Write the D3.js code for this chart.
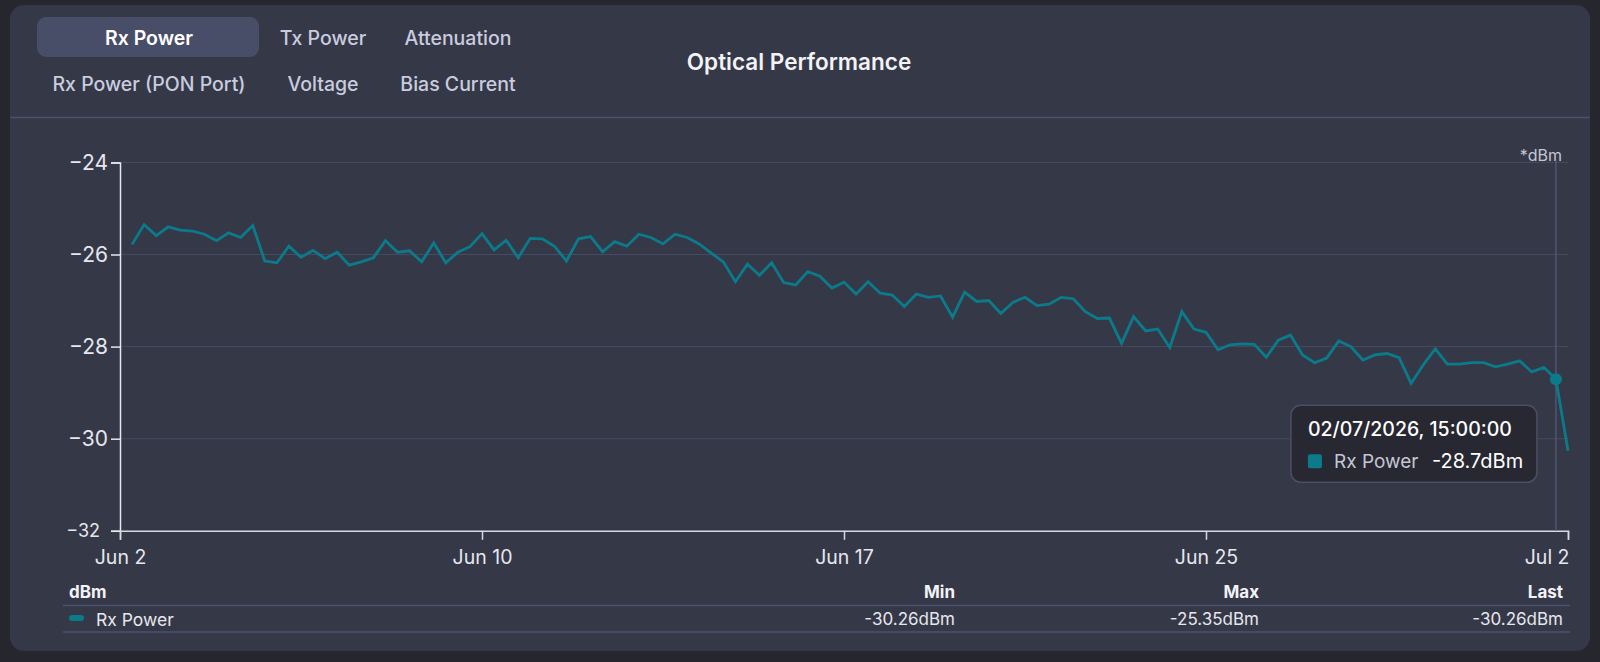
<!DOCTYPE html>
<html>
<head>
<meta charset="utf-8">
<script src="https://cdn.jsdelivr.net/npm/d3@7"></script>
<style>
  html, body { margin: 0; padding: 0; background: #26262f; }
  svg { display: block; font-family: Inter, "Noto Sans", sans-serif; }
</style>
</head>
<body>
<svg id="chart" width="1600" height="662"></svg>
<script>
// ---------------- data ----------------
const seriesName = "Rx Power";
const unit = "dBm";
const startTime = new Date(2026, 5, 3, 3, 0, 0);   // first sample
const stepHours = 6;
const rxPower = [
  -25.78,-25.35,-25.59,-25.40,-25.47,-25.49,-25.56,-25.70,-25.53,-25.63,
  -25.37,-26.14,-26.18,-25.82,-26.06,-25.91,-26.09,-25.95,-26.23,-26.16,
  -26.07,-25.70,-25.95,-25.92,-26.16,-25.75,-26.18,-25.95,-25.83,-25.55,
  -25.90,-25.69,-26.07,-25.65,-25.66,-25.82,-26.14,-25.66,-25.61,-25.94,
  -25.72,-25.82,-25.56,-25.63,-25.77,-25.56,-25.63,-25.77,-25.97,-26.16,
  -26.59,-26.21,-26.45,-26.18,-26.61,-26.66,-26.37,-26.47,-26.73,-26.60,
  -26.86,-26.59,-26.84,-26.88,-27.13,-26.86,-26.93,-26.90,-27.36,-26.82,
  -27.02,-27.00,-27.28,-27.04,-26.93,-27.11,-27.08,-26.93,-26.96,-27.24,
  -27.39,-27.38,-27.93,-27.35,-27.66,-27.62,-28.02,-27.24,-27.62,-27.69,
  -28.07,-27.96,-27.94,-27.95,-28.23,-27.86,-27.75,-28.18,-28.35,-28.25,
  -27.88,-28.00,-28.29,-28.18,-28.15,-28.24,-28.80,-28.40,-28.05,-28.38,
  -28.38,-28.35,-28.35,-28.44,-28.38,-28.31,-28.55,-28.45,-28.71,-30.26
];
const yTicks = [-24, -26, -28, -30, -32];
const xTickLabels = ["Jun 2", "Jun 10", "Jun 17", "Jun 25", "Jul 2"];
const tabsRow1 = ["Rx Power", "Tx Power", "Attenuation"];
const tabsRow2 = ["Rx Power (PON Port)", "Voltage", "Bias Current"];
const chartTitle = "Optical Performance";
const tableHeaders = ["Min", "Max", "Last"];
const hoverIndex = 118;

(function () {
const svg = d3.select("#chart");
const lineColor = "#0b7b8b";
const hy = s => s.replace(/\u2212/g, "-");
const fmt2 = v => hy(d3.format(".2f")(v));
const fmt1 = v => hy(d3.format(".1f")(v));

const data = rxPower.map((v, i) => ({ t: d3.timeHour.offset(startTime, i * stepHours), v }));

// card
svg.append("rect").attr("x", 10).attr("y", 5).attr("width", 1580).attr("height", 646)
  .attr("rx", 14).attr("fill", "#353847");

// tabs
const tabX = [149, 323, 458];
svg.append("rect").attr("x", 37).attr("y", 17).attr("width", 222).attr("height", 40)
  .attr("rx", 9).attr("fill", "#484d68");
tabsRow1.forEach((t, i) => {
  svg.append("text").attr("x", tabX[i]).attr("y", 38).attr("text-anchor", "middle")
    .attr("dominant-baseline", "central").attr("font-size", 19.5).attr("font-weight", i === 0 ? 600 : 500)
    .attr("fill", i === 0 ? "#ffffff" : "#c9ccdf").text(t);
});
tabsRow2.forEach((t, i) => {
  svg.append("text").attr("x", tabX[i]).attr("y", 84).attr("text-anchor", "middle")
    .attr("dominant-baseline", "central").attr("font-size", 19.5).attr("font-weight", 500)
    .attr("fill", "#c9ccdf").text(t);
});
svg.append("text").attr("x", 799).attr("y", 61).attr("text-anchor", "middle")
  .attr("dominant-baseline", "central").attr("font-size", 22.5).attr("font-weight", 600)
  .attr("fill", "#f2f2f7").text(chartTitle);
svg.append("line").attr("x1", 10).attr("x2", 1590).attr("y1", 117.5).attr("y2", 117.5)
  .attr("stroke", "#4b5070").attr("stroke-width", 1.5);

// ---------------- scales ----------------
const pLeft = 120, pRight = 1568, pTop = 162.4, pBottom = 530.8;
const x0 = d3.timeHour.offset(startTime, -stepHours);
const x1 = data[data.length - 1].t;
const x = d3.scaleTime().domain([x0, x1]).range([pLeft, pRight]);
const y = d3.scaleLinear().domain([-32, -24]).range([pBottom, pTop]);

// gridlines
svg.append("g").selectAll("line").data(yTicks.filter(d => d !== -32)).join("line")
  .attr("x1", pLeft).attr("x2", pRight)
  .attr("y1", d => y(d)).attr("y2", d => y(d))
  .attr("stroke", "#464a62").attr("stroke-width", 1);

// y axis
const yAxis = svg.append("g").attr("transform", `translate(${pLeft},0)`)
  .call(d3.axisLeft(y).tickValues(yTicks).tickSize(9).tickPadding(12).tickFormat(d3.format("d")));
yAxis.selectAll("path, line").attr("stroke", "#e6e6ee").attr("stroke-width", 1.5);
yAxis.selectAll("text").attr("font-size", d => d === -32 ? 18 : 21).attr("fill", "#e6e6ee")
  .attr("font-family", "Inter, sans-serif")
  .attr("x", d => d === -32 ? -20 : -12);

// x axis — ticks equally spaced over the domain
const xTickValues = xTickLabels.map((_, i) => new Date(+x0 + i * (x1 - x0) / (xTickLabels.length - 1)));
const xAxis = svg.append("g").attr("transform", `translate(0,${pBottom})`)
  .call(d3.axisBottom(x).tickValues(xTickValues).tickSize(9).tickSizeOuter(9).tickPadding(10)
    .tickFormat((d, i) => xTickLabels[i]));
xAxis.selectAll("path, line").attr("stroke", "#d8d9e2").attr("stroke-width", 1.5);
xAxis.selectAll("text").attr("font-size", 19.5).attr("fill", "#e6e6ee")
  .attr("font-family", "Inter, sans-serif")
  .attr("text-anchor", (d, i) => i === xTickLabels.length - 1 ? "end" : "middle")
  .attr("dx", (d, i) => i === xTickLabels.length - 1 ? 1 : 0);

// unit label
svg.append("text").attr("x", 1562).attr("y", 155).attr("text-anchor", "end")
  .attr("dominant-baseline", "central").attr("font-size", 16).attr("fill", "#c4c6d4").text("*" + unit);

// crosshair
const hp = data[hoverIndex];
svg.append("line").attr("x1", x(hp.t)).attr("x2", x(hp.t)).attr("y1", pTop - 2).attr("y2", pBottom)
  .attr("stroke", "#585d7a").attr("stroke-width", 1.2);

// line
svg.append("path").datum(data)
  .attr("d", d3.line().x(d => x(d.t)).y(d => y(d.v)))
  .attr("fill", "none").attr("stroke", lineColor).attr("stroke-width", 2.8)
  .attr("stroke-linejoin", "miter");

// hover dot
svg.append("circle").attr("cx", x(hp.t)).attr("cy", y(hp.v)).attr("r", 6).attr("fill", lineColor);

// tooltip
const tx = x(hp.t) - 265, ty = y(hp.v) + 26;
const tip = svg.append("g").attr("transform", `translate(${tx},${ty})`);
tip.append("rect").attr("width", 246).attr("height", 77).attr("rx", 10)
  .attr("fill", "#272832").attr("stroke", "#4b4f66").attr("stroke-width", 1.5);
tip.append("text").attr("x", 17).attr("y", 24).attr("dominant-baseline", "central")
  .attr("font-size", 19.5).attr("font-weight", 500).attr("fill", "#ffffff")
  .text(d3.timeFormat("%d/%m/%Y, %H:%M:%S")(hp.t));
tip.append("rect").attr("x", 17).attr("y", 49).attr("width", 14).attr("height", 14).attr("rx", 2)
  .attr("fill", lineColor);
tip.append("text").attr("x", 43).attr("y", 56).attr("dominant-baseline", "central")
  .attr("font-size", 19).attr("fill", "#c4c6d4").text(seriesName);
tip.append("text").attr("x", 141).attr("y", 56).attr("dominant-baseline", "central")
  .attr("font-size", 20).attr("fill", "#ffffff")
  .text(fmt1(hp.v) + unit);

// ---------------- legend table ----------------
const colX = [955, 1259, 1563];
svg.append("text").attr("x", 69).attr("y", 592).attr("dominant-baseline", "central")
  .attr("font-size", 17).attr("font-weight", 700).attr("fill", "#f2f2f7").text(unit);
tableHeaders.forEach((h, i) => {
  svg.append("text").attr("x", colX[i]).attr("y", 592).attr("text-anchor", "end")
    .attr("dominant-baseline", "central").attr("font-size", 17).attr("font-weight", 700)
    .attr("fill", "#f2f2f7").text(h);
});
[605.5, 632].forEach(yy => svg.append("line").attr("x1", 63).attr("x2", 1570)
  .attr("y1", yy).attr("y2", yy).attr("stroke", "#4b5070").attr("stroke-width", 1.5));
svg.append("rect").attr("x", 69).attr("y", 615).attr("width", 15).attr("height", 6).attr("rx", 3)
  .attr("fill", lineColor);
svg.append("text").attr("x", 96).attr("y", 619).attr("dominant-baseline", "central")
  .attr("font-size", 17.5).attr("fill", "#e6e6ee").text(seriesName);
const stats = [d3.min(rxPower), d3.max(rxPower), rxPower[rxPower.length - 1]];
stats.forEach((s, i) => {
  svg.append("text").attr("x", colX[i]).attr("y", 619).attr("text-anchor", "end")
    .attr("dominant-baseline", "central").attr("font-size", 17).attr("fill", "#e6e6ee")
    .text(fmt2(s) + unit);
});
})();
</script>
</body>
</html>
